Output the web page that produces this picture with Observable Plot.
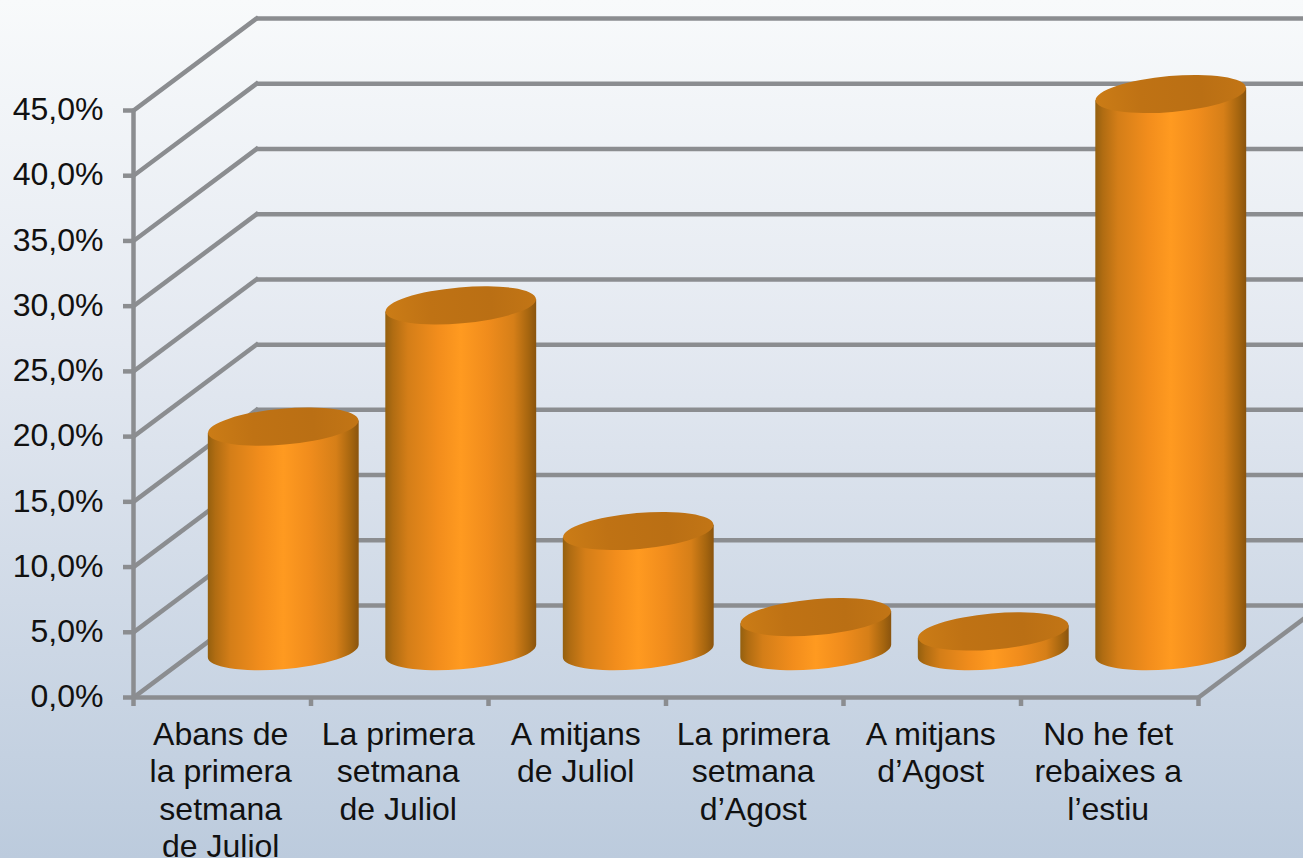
<!DOCTYPE html>
<html>
<head>
<meta charset="utf-8">
<script src="https://cdn.jsdelivr.net/npm/d3@7"></script>
<script src="https://cdn.jsdelivr.net/npm/@observablehq/plot@0.6"></script>
<style>
html,body{margin:0;padding:0;width:1303px;height:858px;overflow:hidden;background:linear-gradient(180deg,#f8fafb 0%,#e4e9f1 40%,#bccbdd 100%);}
svg{display:block;}
</style>
</head>
<body>
<div id="chart"></div>
<script>
const categories = ["Abans de\nla primera\nsetmana\nde Juliol","La primera\nsetmana\nde Juliol","A mitjans\nde Juliol","La primera\nsetmana\nd’Agost","A mitjans\nd’Agost","No he fet\nrebaixes a\nl’estiu"];
const values = [17.2, 26.5, 9.2, 2.6, 1.5, 42.7];
const yTicks = [0,5,10,15,20,25,30,35,40,45];
const catBounds = [0,1,2,3,4,5,6];
const catCenters = [0.5,1.5,2.5,3.5,4.5,5.5];
const depthX = 0.693;   // depth of the 3D box in category units
const depthY = 7.05;    // depth of the 3D box in percent units
const halfWidth = 0.425;
const gray = "#8b8d90";
const fontFamily = "'Liberation Sans', Arial, sans-serif";
const textStretch = 1.05; // the reference's text is slightly wider than tall

const rows = categories.map((c,i)=>({c,v:values[i],i}));

function cylinders(index, scales, ch) {
  const g = d3.create("svg:g");
  const defs = g.append("defs");
  const grad = defs.append("linearGradient").attr("id","cylBody");
  [[0,"#94600f"],[0.05,"#b06c12"],[0.15,"#d47e18"],[0.35,"#f28d1c"],[0.5,"#ff9a20"],[0.68,"#f08c1c"],[0.85,"#d67f18"],[0.95,"#a5650f"],[1,"#8a540e"]]
    .forEach(([o,c])=>grad.append("stop").attr("offset",o).attr("stop-color",c));
  const top = defs.append("linearGradient").attr("id","cylTop");
  [[0,"#cb7c16"],[0.3,"#bf7214"],[0.7,"#ba6f14"],[1,"#c27515"]]
    .forEach(([o,c])=>top.append("stop").attr("offset",o).attr("stop-color",c));
  const rot = -5, ry = 18;
  for (const i of index) {
    const xl = ch.x1[i], xr = ch.x2[i], cx = (xl+xr)/2, xext = (xr-xl)/2;
    const rx = Math.sqrt(xext*xext + 6);
    const off = 6.2;
    const yb = ch.y1[i], yt = ch.y2[i];
    g.append("path")
      .attr("fill","url(#cylBody)")
      .attr("d",`M${xl},${yt+off}L${xl},${yb+off}A${rx},${ry} ${rot} 0 0 ${xr},${yb-off}L${xr},${yt-off}Z`);
    g.append("ellipse")
      .attr("cx",cx).attr("cy",yt).attr("rx",rx).attr("ry",ry)
      .attr("transform",`rotate(${rot} ${cx} ${yt})`)
      .attr("fill","url(#cylTop)");
  }
  return g.node();
}

const plot = Plot.plot({
  width:1303, height:858,
  marginLeft:133, marginRight:105, marginTop:110, marginBottom:161,
  style:{background:"transparent",fontFamily,overflow:"visible"},
  x:{domain:[0,6],axis:null},
  y:{domain:[0,45],axis:null},
  marks:[
    Plot.ruleY(yTicks,{y:d=>d+depthY,x1:depthX,x2:6+depthX,stroke:gray,strokeWidth:4.5}),
    Plot.link(yTicks,{x1:0,y1:d=>d,x2:depthX,y2:d=>d+depthY,stroke:gray,strokeWidth:4.5,strokeLinecap:"square"}),
    Plot.link([0],{x1:6,y1:0,x2:6+depthX,y2:depthY,stroke:gray,strokeWidth:4.5}),
    Plot.ruleY([0],{x1:0,x2:6,stroke:gray,strokeWidth:4.5}),
    Plot.ruleX([0],{y1:0,y2:45,stroke:gray,strokeWidth:4.5}),
    Plot.axisY({ticks:yTicks,tickSize:10,tickPadding:20,strokeWidth:4.5,stroke:gray,fill:"#111",fontSize:30.5,textStroke:"none",
      tickFormat:d=>d.toFixed(1).replace(".",",")+"%",label:null}),
    Plot.axisX({ticks:catBounds,tickSize:9,tickFormat:()=>"",strokeWidth:4.5,stroke:gray,label:null}),
    Plot.axisX({ticks:catCenters,tickSize:0,tickPadding:21,fill:"#111",fontSize:30.5,lineHeight:1.223,dx:-1.5,
      tickFormat:d=>categories[d-0.5],label:null,textOverflow:null}),
    Plot.rect(rows,{
      x1:d=>d.i+0.5+depthX/2-halfWidth,
      x2:d=>d.i+0.5+depthX/2+halfWidth,
      y1:depthY/2,
      y2:d=>d.v+depthY/2,
      render:cylinders
    })
  ]
});
plot.querySelectorAll('g[aria-label*="tick label"] text').forEach(t=>{
  const tr = t.getAttribute("transform") || "";
  t.setAttribute("transform", tr + ` scale(${textStretch},1)`);
});
document.getElementById("chart").appendChild(plot);
</script>
</body>
</html>
